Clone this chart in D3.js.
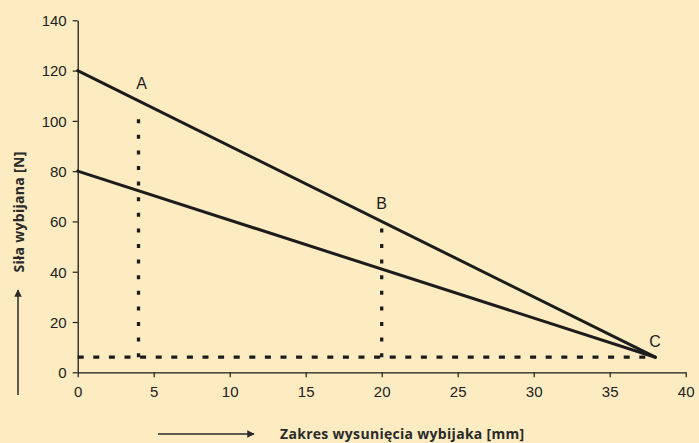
<!DOCTYPE html>
<html>
<head>
<meta charset="utf-8">
<script src="https://cdn.jsdelivr.net/npm/d3@7"></script>
<style>
  body { margin: 0; background: #fdebc1; }
  svg { display: block; }
  .tick text { font-family: "Liberation Sans", Arial, sans-serif; font-size: 15px; fill: #222; }
  .lbl { font-family: "Open Sans", sans-serif; font-weight: 700; font-size: 14px; fill: #2a2a2a; letter-spacing: 0.3px; }
</style>
</head>
<body>
<svg id="chart" width="699" height="443"></svg>
<script>
// axis ticks
const xTicks = [0, 5, 10, 15, 20, 25, 30, 35, 40];
const yTicks = [0, 20, 40, 60, 80, 100, 120, 140];

// solid lines (x, y)
const upperLine = [[0, 120], [38, 6]];
const lowerLine = [[0, 80], [38, 6]];

// dotted guide lines
const hGuides = [[[0, 6], [38, 6]]];
const vGuides = [
    [[4, 6], [4, 101]],
    [[20, 6], [20, 58]]
];

// point labels
const pointLabels = [
    { name: 'A', x: 4, y: 108 },
    { name: 'B', x: 20, y: 60 },
    { name: 'C', x: 38, y: 6 }
];

const svg = d3.select('#chart');

const x = d3.scaleLinear().domain([0, 40]).range([77.7, 685.7]);
const y = d3.scaleLinear().domain([0, 140]).range([372.3, 20.3]);

const ink = '#1c1c1c';

// axes
const xAxis = svg.append('g')
    .attr('transform', `translate(0,${y(0)})`)
    .call(d3.axisBottom(x).tickValues(xTicks).tickSize(5).tickSizeOuter(0).tickPadding(9));
const yAxis = svg.append('g')
    .attr('transform', `translate(${x(0)},0)`)
    .call(d3.axisLeft(y).tickValues(yTicks).tickSize(5).tickSizeOuter(0).tickPadding(6));
[xAxis, yAxis].forEach(g => {
    g.select('.domain').attr('stroke', ink).attr('stroke-width', 1.3);
    g.selectAll('.tick line').attr('stroke', ink).attr('stroke-width', 1.2);
});
yAxis.selectAll('.tick text').attr('dy', '0.36em');

const line = d3.line().x(d => x(d[0])).y(d => y(d[1]));

// dotted guides
hGuides.forEach(pts => {
    svg.append('path')
        .attr('d', line(pts))
        .attr('fill', 'none')
        .attr('stroke', ink)
        .attr('stroke-width', 3.3)
        .attr('stroke-dasharray', '6,9.6');
});
vGuides.forEach(pts => {
    svg.append('path')
        .attr('d', line(pts))
        .attr('fill', 'none')
        .attr('stroke', ink)
        .attr('stroke-width', 3.3)
        .attr('stroke-dasharray', '4,11.6');
});

// solid lines
[upperLine, lowerLine].forEach(pts => {
    svg.append('path')
        .attr('d', line(pts))
        .attr('fill', 'none')
        .attr('stroke', ink)
        .attr('stroke-width', 3)
        .attr('stroke-linecap', 'round');
});

// point labels
svg.selectAll('text.pt')
    .data(pointLabels)
    .enter().append('text')
    .attr('class', 'pt')
    .attr('x', d => d.name === 'A' ? x(d.x) + 3 : d.name === 'B' ? x(d.x) : x(d.x) - 6)
    .attr('y', d => d.name === 'C' ? y(d.y) - 10 : y(d.y) - 12)
    .attr('text-anchor', d => d.name === 'C' ? 'start' : 'middle')
    .attr('font-family', '"Liberation Sans", Arial, sans-serif')
    .attr('font-size', 16)
    .attr('fill', ink)
    .text(d => d.name);

// arrow marker
svg.append('defs').append('marker')
    .attr('id', 'arrowhead')
    .attr('viewBox', '0 -5 10 10')
    .attr('refX', 9)
    .attr('refY', 0)
    .attr('markerWidth', 5)
    .attr('markerHeight', 5)
    .attr('orient', 'auto')
    .append('path')
    .attr('d', 'M0,-5L10,0L0,5Z')
    .attr('fill', '#2a2a2a');

// y-axis title and arrow
svg.append('text')
    .attr('class', 'lbl')
    .attr('transform', 'translate(24,212) rotate(-90)')
    .attr('text-anchor', 'middle')
    .text('Siła wybijana [N]');
svg.append('line')
    .attr('x1', 18).attr('y1', 395)
    .attr('x2', 18).attr('y2', 290)
    .attr('stroke', '#2a2a2a').attr('stroke-width', 1.5)
    .attr('marker-end', 'url(#arrowhead)');

// x-axis title and arrow
svg.append('text')
    .attr('class', 'lbl')
    .attr('x', 280)
    .attr('y', 439)
    .text('Zakres wysunięcia wybijaka [mm]');
svg.append('line')
    .attr('x1', 158).attr('y1', 434)
    .attr('x2', 254).attr('y2', 434)
    .attr('stroke', '#2a2a2a').attr('stroke-width', 1.5)
    .attr('marker-end', 'url(#arrowhead)');
</script>
</body>
</html>
